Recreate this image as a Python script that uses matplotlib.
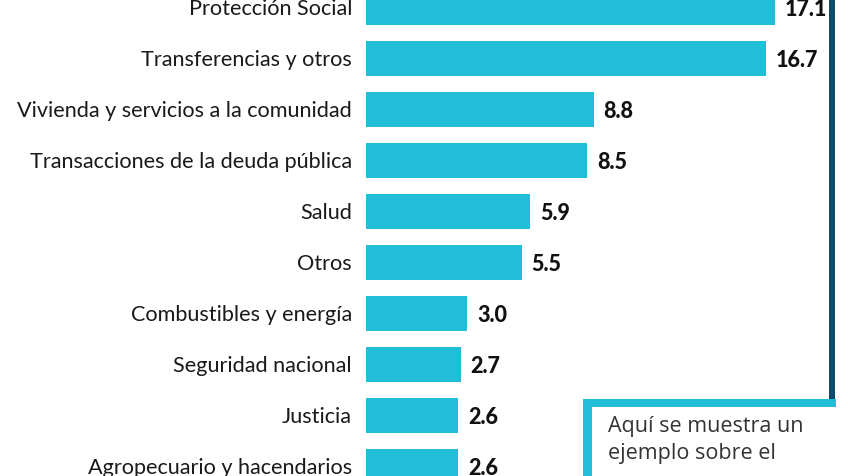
import numpy as np
import matplotlib.pyplot as plt
from matplotlib.patches import Rectangle

# data (top to bottom)
categories = ["Protección Social", "Transferencias y otros",
              "Vivienda y servicios a la comunidad",
              "Transacciones de la deuda pública", "Salud", "Otros",
              "Combustibles y energía", "Seguridad nacional", "Justicia",
              "Agropecuario y hacendarios"]
values = [17.1, 16.7, 8.8, 8.5, 5.9, 5.5, 3.0, 2.7, 2.6, 2.6]
value_labels = ["17.1", "16.7", "8.8", "8.5", "5.9", "5.5", "3.0", "2.7", "2.6", "2.6"]
note_lines = ["Aquí se muestra un", "ejemplo sobre el"]

CYAN = "#22BDD6"
NAVY = "#0E4A6B"
INK = "#1a1a1a"
BASE = 1.64  # bars start a little left of zero in the original

fig = plt.figure(figsize=(8.48, 4.77), dpi=100)
ax = fig.add_axes([0, 0, 1, 1])
y = np.arange(len(values))
v = np.array(values)
ax.barh(y, v + BASE, left=-BASE, height=0.68, color=CYAN)
ax.set_xlim(-18.43, 20.47)
ax.set_ylim(9.186, -0.167)
ax.axis("off")

for yi, name, val, lab in zip(y, categories, v, value_labels):
    ax.annotate(name, (-BASE, yi), xytext=(-14, 0), textcoords="offset pixels",
                ha="right", va="center", fontsize=15.6, family="Lato", color=INK)
    ax.annotate(lab, (val, yi), xytext=(10, -1), textcoords="offset pixels",
                ha="left", va="center", fontsize=15.5, family="Lato",
                fontweight="black", color="#111111")

# frame decorations in pixel space
deco = fig.add_axes([0, 0, 1, 1])
deco.set_xlim(0, 848); deco.set_ylim(477, 0)
deco.axis("off")
deco.add_patch(Rectangle((829, -5), 6, 405, color=NAVY, lw=0))
deco.add_patch(Rectangle((583, 400), 253, 8, color=CYAN, lw=0))
deco.add_patch(Rectangle((583, 400), 9, 90, color=CYAN, lw=0))
deco.text(608, 432, note_lines[0], ha="left", va="baseline", fontsize=15.5,
          family="Open Sans", color="#333333")
deco.text(608, 459, note_lines[1], ha="left", va="baseline", fontsize=15.5,
          family="Open Sans", color="#333333")

fig.savefig("out.png", dpi=100)
